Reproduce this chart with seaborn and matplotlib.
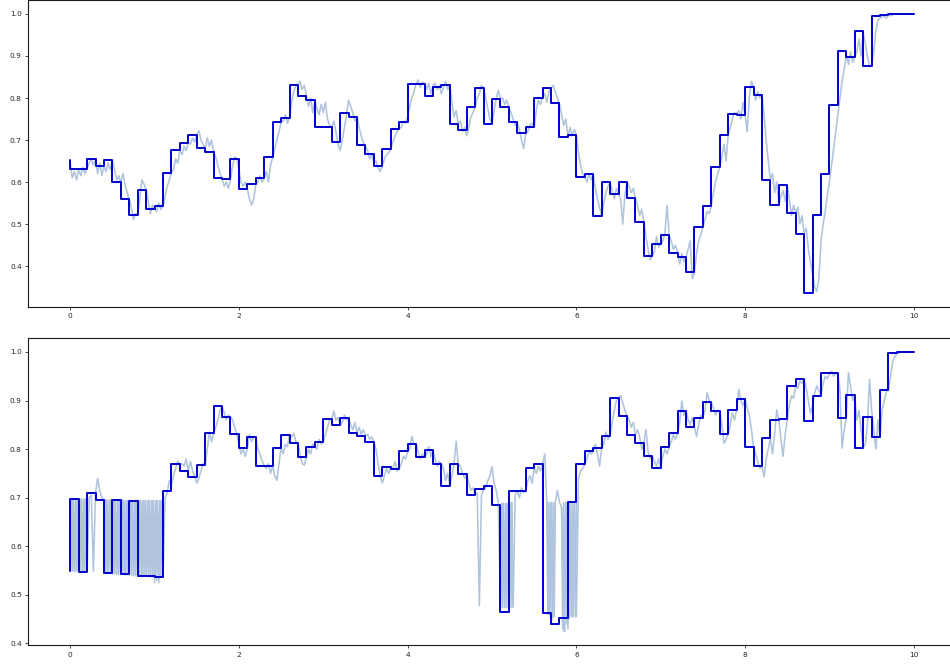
import numpy as np
import matplotlib
matplotlib.use('Agg')
import matplotlib.pyplot as plt
import seaborn as sns

# step values: first point at x=0, then one value per 0.1 interval (held over the interval)
step_top = [0.652,
    0.632, 0.632, 0.655, 0.638, 0.652, 0.599, 0.559, 0.522, 0.582, 0.536,
    0.543, 0.622, 0.677, 0.694, 0.713, 0.680, 0.671, 0.609, 0.607, 0.656,
    0.583, 0.595, 0.610, 0.659, 0.743, 0.753, 0.831, 0.805, 0.795, 0.730,
    0.730, 0.695, 0.764, 0.755, 0.687, 0.667, 0.639, 0.678, 0.727, 0.742,
    0.834, 0.834, 0.804, 0.827, 0.832, 0.739, 0.724, 0.779, 0.823, 0.739,
    0.798, 0.779, 0.742, 0.717, 0.730, 0.801, 0.823, 0.787, 0.708, 0.712,
    0.611, 0.619, 0.519, 0.599, 0.572, 0.599, 0.561, 0.504, 0.423, 0.452,
    0.473, 0.432, 0.421, 0.386, 0.492, 0.542, 0.635, 0.713, 0.762, 0.759,
    0.827, 0.807, 0.606, 0.546, 0.592, 0.526, 0.477, 0.336, 0.522, 0.618,
    0.784, 0.912, 0.898, 0.959, 0.876, 0.994, 0.997, 0.999, 1.000, 1.000]

step_bottom = [0.549,
    0.697, 0.548, 0.709, 0.696, 0.544, 0.695, 0.542, 0.694, 0.539, 0.538,
    0.536, 0.713, 0.769, 0.754, 0.742, 0.767, 0.833, 0.888, 0.866, 0.831,
    0.802, 0.824, 0.766, 0.766, 0.803, 0.829, 0.812, 0.783, 0.805, 0.815,
    0.862, 0.849, 0.865, 0.834, 0.828, 0.815, 0.745, 0.764, 0.759, 0.796,
    0.811, 0.784, 0.799, 0.770, 0.724, 0.769, 0.749, 0.705, 0.717, 0.724,
    0.686, 0.465, 0.714, 0.714, 0.761, 0.769, 0.462, 0.440, 0.452, 0.691,
    0.769, 0.796, 0.803, 0.828, 0.905, 0.869, 0.830, 0.813, 0.785, 0.761,
    0.804, 0.833, 0.879, 0.845, 0.865, 0.896, 0.879, 0.831, 0.881, 0.903,
    0.805, 0.765, 0.823, 0.859, 0.861, 0.930, 0.945, 0.858, 0.910, 0.956,
    0.956, 0.865, 0.911, 0.803, 0.867, 0.824, 0.921, 0.997, 1.000, 1.000]

# fine series, one value every 0.025
noisy_top = [0.645,
    0.610, 0.625, 0.605, 0.630,  0.615, 0.635, 0.620, 0.632,   # 0.0-0.2
    0.645, 0.655, 0.640, 0.655,  0.620, 0.645, 0.615, 0.638,   # 0.2-0.4
    0.625, 0.645, 0.630, 0.652,  0.630, 0.605, 0.615, 0.599,   # 0.4-0.6
    0.620, 0.595, 0.575, 0.559,  0.540, 0.510, 0.525, 0.522,   # 0.6-0.8
    0.560, 0.605, 0.595, 0.582,  0.555, 0.525, 0.545, 0.536,   # 0.8-1.0
    0.530, 0.550, 0.535, 0.543,  0.565, 0.590, 0.605, 0.622,   # 1.0-1.2
    0.630, 0.655, 0.645, 0.677,  0.665, 0.685, 0.675, 0.694,   # 1.2-1.4
    0.690, 0.705, 0.695, 0.713,  0.722, 0.700, 0.690, 0.680,   # 1.4-1.6
    0.705, 0.685, 0.700, 0.671,  0.660, 0.640, 0.620, 0.609,   # 1.6-1.8
    0.590, 0.600, 0.585, 0.607,  0.640, 0.660, 0.655, 0.630,   # 1.8-2.0
    0.600, 0.590, 0.600, 0.583,  0.560, 0.545, 0.560, 0.595,   # 2.0-2.2
    0.600, 0.615, 0.600, 0.610,  0.625, 0.600, 0.640, 0.659,   # 2.2-2.4
    0.680, 0.700, 0.720, 0.743,  0.745, 0.760, 0.740, 0.753,   # 2.4-2.6
    0.790, 0.815, 0.830, 0.831,  0.840, 0.820, 0.830, 0.805,   # 2.6-2.8
    0.780, 0.800, 0.765, 0.795,  0.775, 0.760, 0.785, 0.765,   # 2.8-3.0
    0.790, 0.750, 0.735, 0.730,  0.745, 0.720, 0.690, 0.675,   # 3.0-3.2
    0.700, 0.730, 0.760, 0.795,  0.780, 0.765, 0.745, 0.755,   # 3.2-3.4
    0.730, 0.710, 0.695, 0.687,  0.675, 0.655, 0.665, 0.645,   # 3.4-3.6
    0.650, 0.635, 0.625, 0.639,  0.655, 0.665, 0.670, 0.678,   # 3.6-3.8
    0.695, 0.710, 0.720, 0.727,  0.730, 0.745, 0.740, 0.755,   # 3.8-4.0
    0.780, 0.800, 0.815, 0.834,  0.843, 0.825, 0.838, 0.834,   # 4.0-4.2
    0.820, 0.835, 0.810, 0.830,  0.835, 0.820, 0.830, 0.810,   # 4.2-4.4
    0.825, 0.840, 0.820, 0.832,  0.790, 0.755, 0.770, 0.739,   # 4.4-4.6
    0.745, 0.720, 0.730, 0.710,  0.730, 0.755, 0.765, 0.779,   # 4.6-4.8
    0.800, 0.810, 0.830, 0.823,  0.800, 0.775, 0.750, 0.739,   # 4.8-5.0
    0.770, 0.800, 0.818, 0.798,  0.800, 0.785, 0.795, 0.779,   # 5.0-5.2
    0.765, 0.750, 0.735, 0.742,  0.725, 0.700, 0.680, 0.717,   # 5.2-5.4
    0.720, 0.735, 0.740, 0.730,  0.770, 0.795, 0.785, 0.801,   # 5.4-5.6
    0.810, 0.790, 0.815, 0.823,  0.830, 0.815, 0.800, 0.787,   # 5.6-5.8
    0.760, 0.735, 0.750, 0.708,  0.730, 0.710, 0.725, 0.712,   # 5.8-6.0
    0.670, 0.640, 0.620, 0.611,  0.600, 0.620, 0.605, 0.619,   # 6.0-6.2
    0.585, 0.560, 0.540, 0.519,  0.550, 0.575, 0.590, 0.599,   # 6.2-6.4
    0.580, 0.560, 0.585, 0.572,  0.560, 0.500, 0.570, 0.599,   # 6.4-6.6
    0.590, 0.575, 0.585, 0.561,  0.545, 0.520, 0.535, 0.504,   # 6.6-6.8
    0.470, 0.440, 0.415, 0.423,  0.435, 0.470, 0.445, 0.452,   # 6.8-7.0
    0.460, 0.480, 0.545, 0.473,  0.460, 0.440, 0.450, 0.432,   # 7.0-7.2
    0.405, 0.430, 0.410, 0.421,  0.440, 0.460, 0.370, 0.386,   # 7.2-7.4
    0.430, 0.460, 0.475, 0.492,  0.510, 0.530, 0.525, 0.542,   # 7.4-7.6
    0.575, 0.600, 0.620, 0.635,  0.660, 0.690, 0.650, 0.713,   # 7.6-7.8
    0.730, 0.750, 0.765, 0.762,  0.770, 0.750, 0.790, 0.759,   # 7.8-8.0
    0.720, 0.800, 0.840, 0.827,  0.795, 0.815, 0.800, 0.807,   # 8.0-8.2
    0.760, 0.700, 0.650, 0.606,  0.620, 0.575, 0.600, 0.546,   # 8.2-8.4
    0.565, 0.580, 0.555, 0.592,  0.560, 0.520, 0.545, 0.526,   # 8.4-8.6
    0.540, 0.500, 0.520, 0.477,  0.490, 0.440, 0.410, 0.380,   # 8.6-8.8
    0.350, 0.340, 0.370, 0.460,  0.500, 0.530, 0.570, 0.600,   # 8.8-9.0
    0.640, 0.680, 0.720, 0.760,  0.800, 0.840, 0.870, 0.900,   # 9.0-9.2
    0.880, 0.910, 0.885, 0.898,  0.910, 0.940, 0.900, 0.955,   # 9.2-9.4
    0.930, 0.900, 0.875, 0.880,  0.910, 0.960, 0.985, 0.990,   # 9.4-9.6
    0.993, 0.995, 0.990, 0.997,  0.996, 0.998, 0.999, 0.999,   # 9.6-9.8
    1.000, 1.000, 1.000, 1.000,  1.000, 1.000, 1.000, 1.000]   # 9.8-10

noisy_bottom = [0.550,
    0.697, 0.549, 0.697, 0.549,  0.697, 0.548, 0.697, 0.548,   # 0.0-0.2
    0.700, 0.705, 0.548, 0.710,  0.740, 0.715, 0.700, 0.696,   # 0.2-0.4
    0.695, 0.544, 0.695, 0.544,  0.695, 0.543, 0.695, 0.543,   # 0.4-0.6
    0.695, 0.542, 0.694, 0.542,  0.694, 0.541, 0.694, 0.540,   # 0.6-0.8
    0.694, 0.539, 0.694, 0.539,  0.694, 0.538, 0.694, 0.538,   # 0.8-1.0
    0.694, 0.525, 0.694, 0.536,  0.700, 0.710, 0.735, 0.725,   # 1.0-1.2
    0.745, 0.760, 0.775, 0.769,  0.770, 0.765, 0.780, 0.754,   # 1.2-1.4
    0.775, 0.755, 0.745, 0.730,  0.740, 0.755, 0.770, 0.767,   # 1.4-1.6
    0.800, 0.835, 0.815, 0.833,  0.845, 0.860, 0.880, 0.888,   # 1.6-1.8
    0.875, 0.860, 0.870, 0.866,  0.860, 0.845, 0.830, 0.810,   # 1.8-2.0
    0.790, 0.800, 0.785, 0.802,  0.830, 0.815, 0.825, 0.824,   # 2.0-2.2
    0.800, 0.790, 0.775, 0.766,  0.760, 0.770, 0.750, 0.766,   # 2.2-2.4
    0.745, 0.736, 0.770, 0.803,  0.790, 0.810, 0.805, 0.829,   # 2.4-2.6
    0.825, 0.833, 0.815, 0.812,  0.790, 0.770, 0.767, 0.783,   # 2.6-2.8
    0.800, 0.790, 0.810, 0.805,  0.800, 0.820, 0.810, 0.815,   # 2.8-3.0
    0.830, 0.845, 0.860, 0.862,  0.878, 0.860, 0.865, 0.849,   # 3.0-3.2
    0.855, 0.870, 0.860, 0.865,  0.850, 0.840, 0.855, 0.834,   # 3.2-3.4
    0.845, 0.830, 0.840, 0.828,  0.830, 0.820, 0.825, 0.815,   # 3.4-3.6
    0.800, 0.770, 0.745, 0.730,  0.745, 0.760, 0.750, 0.764,   # 3.6-3.8
    0.760, 0.775, 0.755, 0.759,  0.770, 0.785, 0.780, 0.796,   # 3.8-4.0
    0.800, 0.826, 0.810, 0.811,  0.795, 0.780, 0.790, 0.784,   # 4.0-4.2
    0.790, 0.805, 0.785, 0.799,  0.780, 0.765, 0.775, 0.770,   # 4.2-4.4
    0.760, 0.735, 0.750, 0.724,  0.745, 0.770, 0.816, 0.769,   # 4.4-4.6
    0.765, 0.750, 0.740, 0.749,  0.730, 0.715, 0.720, 0.705,   # 4.6-4.8
    0.710, 0.478, 0.705, 0.717,  0.720, 0.735, 0.745, 0.764,   # 4.8-5.0
    0.730, 0.715, 0.690, 0.474,  0.688, 0.474, 0.688, 0.474,   # 5.0-5.2
    0.690, 0.475, 0.705, 0.714,  0.700, 0.720, 0.710, 0.714,   # 5.2-5.4
    0.735, 0.745, 0.730, 0.761,  0.750, 0.765, 0.755, 0.769,   # 5.4-5.6
    0.790, 0.690, 0.460, 0.690,  0.455, 0.690, 0.715, 0.690,   # 5.6-5.8
    0.680, 0.425, 0.690, 0.430,  0.690, 0.455, 0.690, 0.455,   # 5.8-6.0
    0.740, 0.755, 0.760, 0.769,  0.780, 0.795, 0.790, 0.796,   # 6.0-6.2
    0.810, 0.790, 0.765, 0.803,  0.810, 0.835, 0.820, 0.828,   # 6.2-6.4
    0.855, 0.880, 0.900, 0.905,  0.910, 0.895, 0.880, 0.869,   # 6.4-6.6
    0.860, 0.845, 0.855, 0.830,  0.840, 0.825, 0.800, 0.813,   # 6.6-6.8
    0.840, 0.795, 0.780, 0.785,  0.775, 0.765, 0.780, 0.761,   # 6.8-7.0
    0.785, 0.800, 0.790, 0.804,  0.815, 0.830, 0.820, 0.833,   # 7.0-7.2
    0.855, 0.899, 0.870, 0.879,  0.860, 0.850, 0.865, 0.845,   # 7.2-7.4
    0.826, 0.850, 0.870, 0.865,  0.880, 0.916, 0.900, 0.896,   # 7.4-7.6
    0.885, 0.870, 0.880, 0.879,  0.850, 0.812, 0.820, 0.831,   # 7.6-7.8
    0.850, 0.875, 0.860, 0.881,  0.923, 0.900, 0.890, 0.903,   # 7.8-8.0
    0.885, 0.870, 0.840, 0.805,  0.790, 0.775, 0.760, 0.765,   # 8.0-8.2
    0.743, 0.780, 0.800, 0.823,  0.790, 0.830, 0.881, 0.859,   # 8.2-8.4
    0.820, 0.785, 0.830, 0.861,  0.890, 0.910, 0.905, 0.930,   # 8.4-8.6
    0.925, 0.940, 0.935, 0.945,  0.925, 0.900, 0.874, 0.890,   # 8.6-8.8
    0.915, 0.930, 0.920, 0.910,  0.935, 0.950, 0.945, 0.956,   # 8.8-9.0
    0.960, 0.950, 0.955, 0.956,  0.920, 0.802, 0.840, 0.865,   # 9.0-9.2
    0.957, 0.930, 0.900, 0.911,  0.860, 0.880, 0.840, 0.803,   # 9.2-9.4
    0.810, 0.850, 0.943, 0.880,  0.840, 0.800, 0.860, 0.824,   # 9.4-9.6
    0.880, 0.900, 0.920, 0.921,  0.950, 0.980, 0.990, 0.997,   # 9.6-9.8
    0.998, 1.000, 1.000, 1.000,  1.000, 1.000, 1.000, 1.000]   # 9.8-10

# rapid flicker stretches of the lower fine series, one value every 0.0125
burst_a = [0.549, 0.697, 0.549, 0.697, 0.548, 0.697, 0.548, 0.697, 0.548,
           0.697, 0.548, 0.697, 0.548, 0.697, 0.548, 0.697, 0.548]
burst_b = [0.545, 0.695, 0.544, 0.695, 0.544, 0.695, 0.544, 0.695, 0.543, 0.695,
           0.543, 0.695, 0.543, 0.695, 0.542, 0.695, 0.542, 0.694, 0.542, 0.694,
           0.541, 0.694, 0.541, 0.694, 0.541, 0.694, 0.540, 0.694, 0.540, 0.694,
           0.539, 0.694, 0.539, 0.694, 0.539, 0.694, 0.538, 0.694, 0.538, 0.694,
           0.538, 0.694, 0.537, 0.694, 0.537, 0.694, 0.537, 0.694, 0.525, 0.694,
           0.530, 0.694, 0.536, 0.694, 0.536, 0.694, 0.536]
burst_c = [0.474, 0.688, 0.474, 0.688, 0.475, 0.688, 0.474, 0.688, 0.475,
           0.688, 0.474, 0.690, 0.475]
burst_d = [0.690, 0.460, 0.690, 0.455, 0.690, 0.450, 0.690, 0.455, 0.690]
burst_e = [0.680, 0.430, 0.690, 0.425, 0.690, 0.440, 0.690, 0.450, 0.690,
           0.455, 0.690, 0.455, 0.690, 0.455, 0.690]
burst_spans = [(0.0, 0.2), (0.4, 1.1), (5.1, 5.25), (5.65, 5.75), (5.825, 6.0)]
bursts = [burst_a, burst_b, burst_c, burst_d, burst_e]

x_ticks = [0, 2, 4, 6, 8, 10]
fine_colour = 'lightsteelblue'
step_colour = 'mediumblue'


def draw_panel(ax, noisy, steps, extra=()):
    x_fine = np.linspace(0, 10, len(noisy))
    x_step = np.linspace(0, 10, len(steps))
    sns.lineplot(x=x_fine, y=noisy, ax=ax, color=fine_colour, linewidth=1.15,
                 estimator=None, sort=False)
    for (x0, x1), vals in extra:
        sns.lineplot(x=np.linspace(x0, x1, len(vals)), y=vals, ax=ax, color=fine_colour,
                     linewidth=1.15, estimator=None, sort=False)
    sns.lineplot(x=x_step, y=steps, ax=ax, color=step_colour, linewidth=1.4,
                 drawstyle='steps-pre', estimator=None, sort=False)
    ax.set_xticks(x_ticks)
    ax.set_xlim(-0.5, 10.5)
    ax.tick_params(labelsize=5.3, length=2.5, width=0.6, pad=2, colors='.15')
    for spine in ax.spines.values():
        spine.set_linewidth(0.8)
        spine.set_color('.1')
    ax.set_xlabel('')
    ax.set_ylabel('')


sns.set_theme(style='ticks')
plt.rcParams['font.family'] = ['DejaVu Sans']

fig = plt.figure(figsize=(9.5, 6.64), dpi=100)
ax_top = fig.add_axes([0.0295, 0.5377, 0.9768, 0.4623])
ax_bottom = fig.add_axes([0.0295, 0.0282, 0.9768, 0.4628])

draw_panel(ax_top, noisy_top, step_top)
draw_panel(ax_bottom, noisy_bottom, step_bottom, zip(burst_spans, bursts))

fig.savefig('out.png', dpi=100)
